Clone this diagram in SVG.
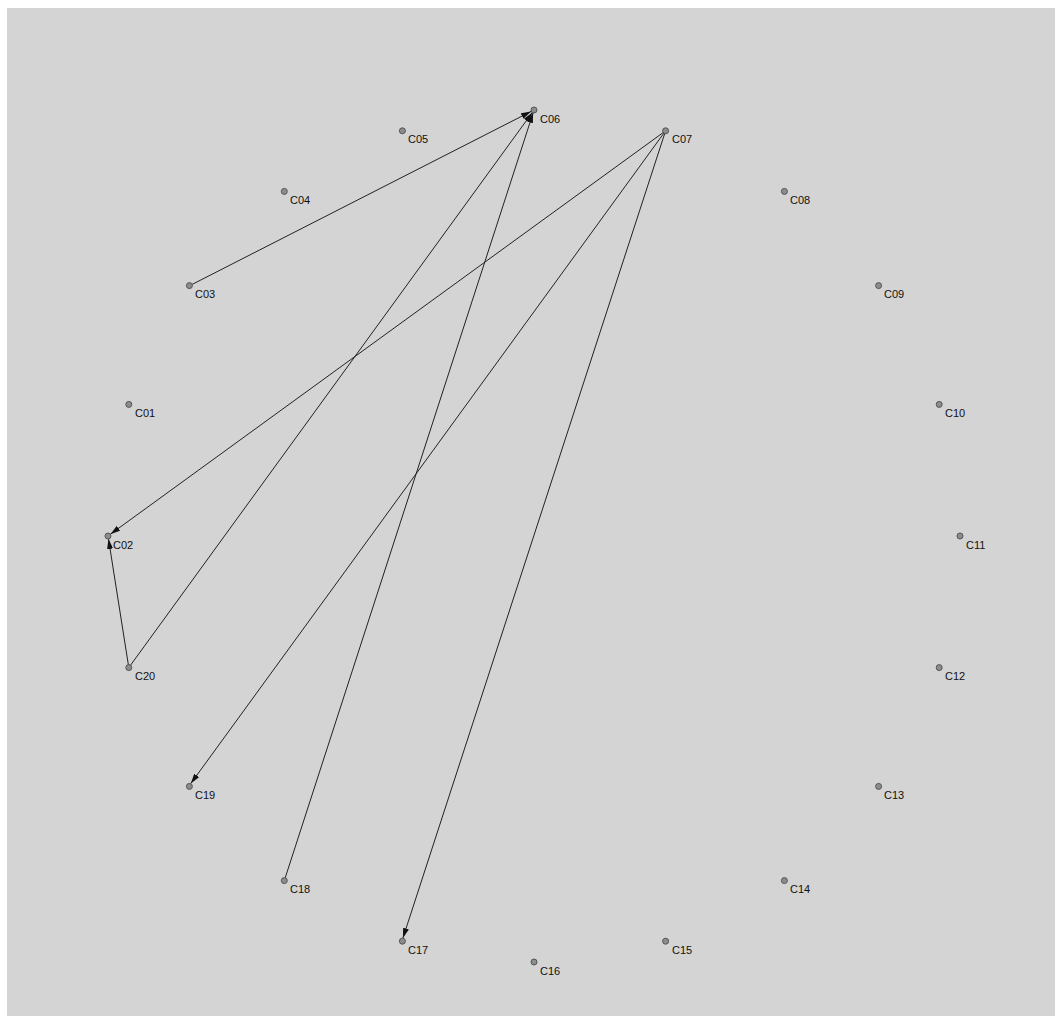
<svg xmlns="http://www.w3.org/2000/svg" width="1057" height="1018" viewBox="0 0 1057 1018">
<style>
.n circle{fill:#8c8c8c;stroke:#555;stroke-width:1}
.n text{font-family:"Liberation Sans",Arial,sans-serif;font-size:11px;fill:#111}
.e line{stroke:#222;stroke-width:1;fill:none;marker-end:url(#ah)}
</style>
<defs>
<marker id="ah" viewBox="0 0 10 6" refX="10" refY="3" markerWidth="10" markerHeight="6" markerUnits="userSpaceOnUse" orient="auto">
<path d="M0,0 L10,3 L0,6 Z" fill="#111"/>
</marker>
</defs>
<rect x="0" y="0" width="1057" height="1018" fill="#ffffff"/>
<rect x="7" y="8" width="1048" height="1008" fill="#d4d4d4"/>
<g class="e" id="edges">
<line x1="189" y1="286" x2="531" y2="111.5"/>
<line x1="128.8" y1="667.6" x2="532.3" y2="112.5"/>
<line x1="284.3" y1="880.6" x2="533.1" y2="112.9"/>
<line x1="665.6" y1="130.8" x2="110.4" y2="534.2"/>
<line x1="665.6" y1="130.8" x2="190.8" y2="783.5"/>
<line x1="665.6" y1="130.8" x2="402.9" y2="938.1"/>
<line x1="128.8" y1="667.6" x2="108.5" y2="539"/>
</g>
<g class="n" id="C06"><circle cx="534" cy="110" r="3"/><text x="540" y="123">C06</text></g>
<g class="n" id="C07"><circle cx="665.6" cy="130.8" r="3"/><text x="672" y="143">C07</text></g>
<g class="n" id="C08"><circle cx="784.4" cy="191.4" r="3"/><text x="790" y="204">C08</text></g>
<g class="n" id="C09"><circle cx="878.6" cy="285.6" r="3"/><text x="884" y="298">C09</text></g>
<g class="n" id="C10"><circle cx="939.2" cy="404.4" r="3"/><text x="945" y="417">C10</text></g>
<g class="n" id="C11"><circle cx="960" cy="536" r="3"/><text x="966" y="549">C11</text></g>
<g class="n" id="C12"><circle cx="939.2" cy="667.6" r="3"/><text x="945" y="680">C12</text></g>
<g class="n" id="C13"><circle cx="878.6" cy="786.4" r="3"/><text x="884" y="799">C13</text></g>
<g class="n" id="C14"><circle cx="784.4" cy="880.6" r="3"/><text x="790" y="893">C14</text></g>
<g class="n" id="C15"><circle cx="665.6" cy="941.2" r="3"/><text x="672" y="954">C15</text></g>
<g class="n" id="C16"><circle cx="534" cy="962" r="3"/><text x="540" y="975">C16</text></g>
<g class="n" id="C17"><circle cx="402.4" cy="941.2" r="3"/><text x="408" y="954">C17</text></g>
<g class="n" id="C18"><circle cx="284.3" cy="880.6" r="3"/><text x="290" y="893">C18</text></g>
<g class="n" id="C19"><circle cx="189.4" cy="786.4" r="3"/><text x="195" y="799">C19</text></g>
<g class="n" id="C20"><circle cx="128.8" cy="667.6" r="3"/><text x="135" y="680">C20</text></g>
<g class="n" id="C02"><circle cx="108" cy="536" r="3"/><text x="113" y="549">C02</text></g>
<g class="n" id="C01"><circle cx="128.8" cy="404.4" r="3"/><text x="135" y="417">C01</text></g>
<g class="n" id="C03"><circle cx="189.4" cy="285.6" r="3"/><text x="195" y="298">C03</text></g>
<g class="n" id="C04"><circle cx="284.3" cy="191.4" r="3"/><text x="290" y="204">C04</text></g>
<g class="n" id="C05"><circle cx="402.4" cy="130.8" r="3"/><text x="408" y="143">C05</text></g>
</svg>
